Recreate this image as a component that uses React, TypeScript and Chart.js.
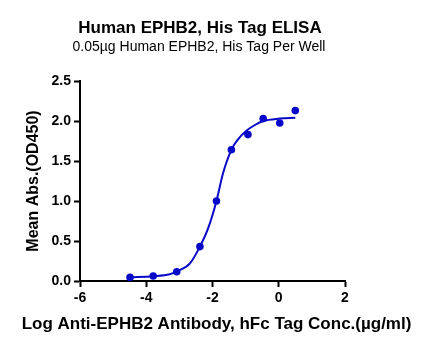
import { useEffect, useRef } from "react";
import { Chart, registerables } from "chart.js";

Chart.register(...registerables);

const TITLE = "Human EPHB2, His Tag ELISA";
const SUBTITLE = "0.05µg Human EPHB2, His Tag Per Well";
const X_LABEL = "Log Anti-EPHB2 Antibody, hFc Tag Conc.(µg/ml)";
const Y_LABEL = "Mean Abs.(OD450)";

// measured points
const logConc = [-4.49, -3.79, -3.08, -2.38, -1.88, -1.43, -0.93, -0.47, 0.03, 0.5];
const meanAbs = [0.046, 0.062, 0.116, 0.43, 1.0, 1.64, 1.83, 2.03, 1.975, 2.13];

// fitted curve
const fitX = [-4.49, -3.79, -3.29, -3.08, -2.68, -2.38, -2.13, -1.88, -1.68, -1.43, -1.23, -0.97, -0.72, -0.47, 0.03, 0.5];
const fitY = [0.046, 0.06, 0.085, 0.12, 0.22, 0.43, 0.66, 1.0, 1.35, 1.64, 1.77, 1.88, 1.95, 2.0, 2.03, 2.04];

const xTicks = [-6, -4, -2, 0, 2];
const yTicks = [0, 0.5, 1.0, 1.5, 2.0, 2.5];

const BLUE = "#0808c8";
const FONT = "'Liberation Sans', Arial, Helvetica, sans-serif";

export default function App() {
  const ref = useRef<HTMLCanvasElement | null>(null);

  useEffect(() => {
    if (!ref.current) return;
    const titlePlugin = {
      id: "titles",
      afterDraw(chart: any) {
        const ctx = chart.ctx;
        const xs = chart.scales.x;
        ctx.save();
        ctx.fillStyle = "#000";
        ctx.textAlign = "center";
        ctx.textBaseline = "alphabetic";
        ctx.font = `bold 17px ${FONT}`;
        ctx.fillText(TITLE, 200, 32.5);
        ctx.font = `14px ${FONT}`;
        ctx.fillText(SUBTITLE, 199, 51);
        ctx.font = `bold 17px ${FONT}`;
        ctx.fillText(X_LABEL, (xs.left + xs.right) / 2 + 4, 328.5);
        ctx.restore();
      },
    };

    const chart = new Chart(ref.current, {
      type: "scatter",
      data: {
        datasets: [
          {
            label: "points",
            data: logConc.map((x, i) => ({ x, y: meanAbs[i] })),
            backgroundColor: BLUE,
            borderColor: BLUE,
            pointRadius: 3.8,
            pointBorderWidth: 0,
            showLine: false,
            order: 0,
          },
          {
            label: "fit",
            data: fitX.map((x, i) => ({ x, y: fitY[i] })),
            borderColor: BLUE,
            backgroundColor: BLUE,
            borderWidth: 2,
            pointRadius: 0,
            showLine: true,
            cubicInterpolationMode: "monotone",
            order: 1,
          } as any,
        ],
      },
      options: {
        responsive: false,
        animation: false,
        layout: { padding: { top: 81, right: 88, left: 0, bottom: 0 } },
        plugins: {
          legend: { display: false },
          tooltip: { enabled: false },
          title: { display: false },
        },
        scales: {
          x: {
            type: "linear",
            min: -6,
            max: 2,
            afterBuildTicks: (s: any) => {
              s.ticks = xTicks.map((v) => ({ value: v }));
            },
            afterFit: (s: any) => {
              s.height = 69;
            },
            grid: {
              display: true,
              drawOnChartArea: false,
              drawTicks: true,
              tickLength: 6,
              tickWidth: 2,
              tickColor: "#000",
            },
            border: { display: true, color: "#000", width: 2 },
            ticks: {
              color: "#000",
              font: { family: FONT, size: 14, weight: "bold" },
              padding: 3,
              maxRotation: 0,
              autoSkip: false,
              callback: (v: any) => String(v),
            },
            title: { display: false },
          },
          y: {
            type: "linear",
            min: 0,
            max: 2.5,
            afterBuildTicks: (s: any) => {
              s.ticks = yTicks.map((v) => ({ value: v }));
            },
            afterFit: (s: any) => {
              s.width = 80;
            },
            grid: {
              display: true,
              drawOnChartArea: false,
              drawTicks: true,
              tickLength: 6,
              tickWidth: 2,
              tickColor: "#000",
            },
            border: { display: true, color: "#000", width: 2 },
            ticks: {
              color: "#000",
              font: { family: FONT, size: 14, weight: "bold" },
              padding: 3,
              autoSkip: false,
              callback: (v: any) => Number(v).toFixed(1),
            },
            title: {
              display: true,
              text: Y_LABEL,
              color: "#000",
              font: { family: FONT, size: 16, weight: "bold" },
              padding: { top: 24, bottom: 0 },
            },
          },
        },
      },
      plugins: [titlePlugin],
    });
    return () => chart.destroy();
  }, []);

  return (
    <div style={{ position: "fixed", left: 0, top: 0, width: 433, height: 350, background: "#fff" }}>
      <canvas ref={ref} width={433} height={350} style={{ display: "block" }} />
    </div>
  );
}
